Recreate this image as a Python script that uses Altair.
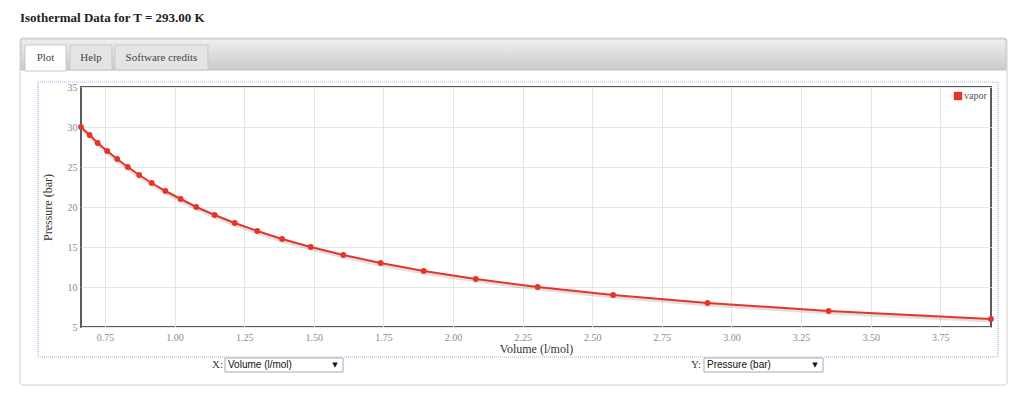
import altair as alt
import pandas as pd

# ---- data ----
volumes = [0.664, 0.695, 0.724, 0.758, 0.794, 0.832, 0.873, 0.918, 0.967, 1.022,
           1.078, 1.144, 1.216, 1.297, 1.386, 1.489, 1.606, 1.740, 1.895, 2.082,
           2.304, 2.575, 2.914, 3.349, 3.932]
pressures = [30, 29, 28, 27, 26, 25, 24, 23, 22, 21, 20, 19, 18, 17, 16, 15,
             14, 13, 12, 11, 10, 9, 8, 7, 6]
series = ["vapor"] * len(volumes)
x_ticks = [0.75, 1.00, 1.25, 1.50, 1.75, 2.00, 2.25, 2.50, 2.75, 3.00, 3.25, 3.50, 3.75]
y_ticks = [5, 10, 15, 20, 25, 30, 35]
title_text = "Isothermal Data for T = 293.00 K"
tab_labels = ["Plot", "Help", "Software credits"]

df = pd.DataFrame({"volume": volumes, "pressure": pressures, "series": series})

W, H = 910, 240
OX, OY = 81, 87  # plot origin on the page
RED = "#e5342b"
SERIF = "Liberation Serif"
SANS = "Liberation Sans"


def px(v):
    return v - OX


def py(v):
    return v - OY


one = alt.Data(values=[{"k": 0}])

x_enc = alt.X("volume:Q", scale=alt.Scale(domain=[min(volumes), max(volumes)], nice=False, zero=False),
              axis=alt.Axis(values=x_ticks, format=".2f", title="Volume (l/mol)",
                            titleX=W / 2, titleY=25, titleBaseline="alphabetic",
                            labelPadding=5))
y_enc = alt.Y("pressure:Q", scale=alt.Scale(domain=[5, 35], nice=False, zero=False),
              axis=alt.Axis(values=y_ticks, title="Pressure (bar)",
                            titleX=px(47), titleY=H / 2, titleAngle=-90,
                            titleBaseline="middle", labelPadding=4))
color_enc = alt.Color("series:N", scale=alt.Scale(domain=["vapor"], range=[RED]),
                      legend=alt.Legend(title=None, orient="top-right", offset=4,
                                        symbolType="square", symbolSize=70,
                                        symbolStrokeWidth=0, labelFont=SERIF,
                                        labelFontSize=10, labelColor="#545454",
                                        labelOffset=1, padding=0))

base = alt.Chart(df)
shadow = base.mark_line(color="#000000", opacity=0.12, strokeWidth=3, yOffset=2).encode(
    x=x_enc, y=y_enc)
line = base.mark_line(strokeWidth=2).encode(x=x_enc, y=y_enc, color=color_enc)
pts = base.mark_circle(size=34, opacity=1).encode(x=x_enc, y=y_enc, color=color_enc)

# ---- page decoration (panel, tabs, selectors) ----
panel = alt.Chart(one).mark_rect(fill="transparent", stroke="#cfcfcf", strokeWidth=1,
                                 cornerRadius=3).encode(
    x=alt.value(px(20)), x2=alt.value(px(1007)), y=alt.value(py(38)), y2=alt.value(py(385)))
header = alt.Chart(one).mark_rect(
    fill=alt.Gradient(gradient="linear", x1=0, y1=0, x2=0, y2=1,
                      stops=[alt.GradientStop(color="#efefef", offset=0),
                             alt.GradientStop(color="#cacaca", offset=1)]),
    stroke="#c4c4c4", strokeWidth=1).encode(
    x=alt.value(px(21)), x2=alt.value(px(1006)), y=alt.value(py(39)), y2=alt.value(py(70)))
tab_x = [(25, 66), (70, 112), (115, 208)]
tab_fill = ["#ffffff", "#e4e4e4", "#e4e4e4"]
tabs = []
for (a, b), f, lab in zip(tab_x, tab_fill, tab_labels):
    tabs.append(alt.Chart(one).mark_rect(fill=f, stroke="#c8c8c8", strokeWidth=1).encode(
        x=alt.value(px(a)), x2=alt.value(px(b)), y=alt.value(py(45)),
        y2=alt.value(py(71 if f == "#ffffff" else 70))))
    tabs.append(alt.Chart(one).mark_text(text=lab, font=SERIF, fontSize=11, color="#444444",
                                         align="center", baseline="alphabetic").encode(
        x=alt.value(px((a + b) / 2)), y=alt.value(py(61))))
title = alt.Chart(one).mark_text(text=title_text, font=SERIF, fontSize=13, fontWeight="bold",
                                 color="#222222", align="left", baseline="alphabetic").encode(
    x=alt.value(px(20)), y=alt.value(py(22)))
blue_box = alt.Chart(one).mark_rect(fill="transparent", stroke="#9db4ea", strokeWidth=1.2,
                                    strokeDash=[1, 1]).encode(
    x=alt.value(px(38)), x2=alt.value(px(998)), y=alt.value(py(82)), y2=alt.value(py(357)))

selectors = []
for lab, val, lx, bx0, bx1 in [("X:", "Volume (l/mol)", 212, 225, 343),
                               ("Y:", "Pressure (bar)", 691, 704, 823)]:
    selectors.append(alt.Chart(one).mark_text(text=lab, font=SERIF, fontSize=11, color="#333333",
                                              align="left", baseline="middle").encode(
        x=alt.value(px(lx)), y=alt.value(py(365))))
    selectors.append(alt.Chart(one).mark_rect(fill="#ffffff", stroke="#a9a9a9",
                                              strokeWidth=1).encode(
        x=alt.value(px(bx0)), x2=alt.value(px(bx1)), y=alt.value(py(358)), y2=alt.value(py(372))))
    selectors.append(alt.Chart(one).mark_text(text=val, font=SANS, fontSize=10, color="#111111",
                                              align="left", baseline="middle").encode(
        x=alt.value(px(bx0 + 3)), y=alt.value(py(365))))
    selectors.append(alt.Chart(one).mark_text(text="▼", font="DejaVu Sans", fontSize=7,
                                              color="#111111", align="center",
                                              baseline="middle").encode(
        x=alt.value(px(bx1 - 8)), y=alt.value(py(365))))

chart = alt.layer(panel, header, *tabs, title, blue_box, *selectors, shadow, line, pts).properties(
    width=W, height=H,
    autosize=alt.AutoSizeParams(type="none"),
    padding={"left": OX, "top": OY, "right": 1024 - OX - W, "bottom": 412 - OY - H},
    background="#ffffff",
).configure_view(
    stroke="#5c5c5c", strokeWidth=2
).configure_axis(
    grid=True, gridColor="#e6e6e6", gridWidth=1, ticks=False, domain=False,
    labelFont=SERIF, labelFontSize=10, labelColor="#8a8a8a",
    titleFont=SERIF, titleFontSize=12, titleFontWeight="normal", titleColor="#333333",
)

chart.save("out.html", embed_options={"renderer": "svg", "actions": False})
